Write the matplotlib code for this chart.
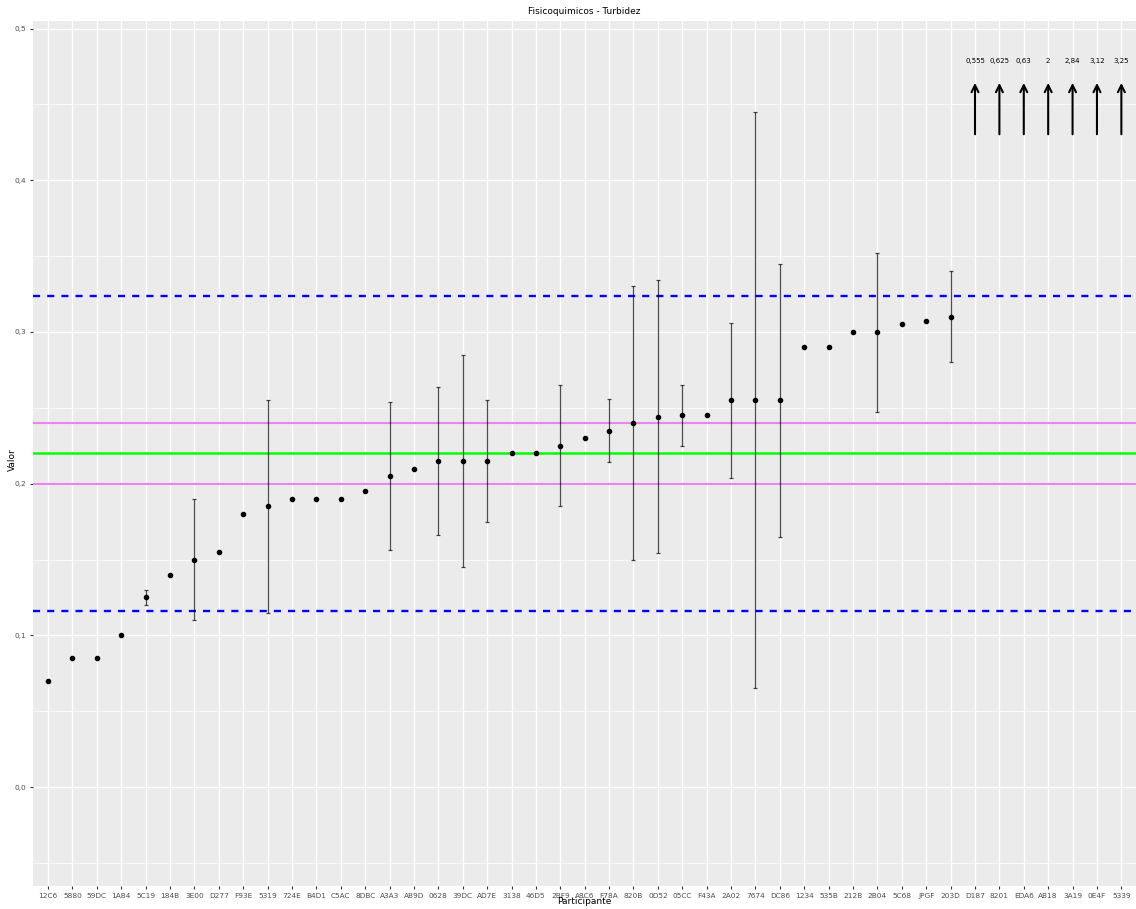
import numpy as np
import matplotlib.pyplot as plt
from matplotlib.ticker import MultipleLocator, FuncFormatter

participantes = ['12C6', '5880', '59DC', '1AB4', '5C19', '184B', '3E00', 'D277', 'F93E', '5319',
                 '724E', 'B4D1', 'C5AC', '8DBC', 'A3A3', 'AB9D', '0628', '39DC', 'AD7E', '3138',
                 '46D5', '2BF9', 'A8C6', 'F78A', '820B', '0D52', '05CC', 'F43A', '2A02', '7674',
                 'DC86', '1234', '535B', '212B', '2B04', '5C68', 'JPGF', '203D', 'D187', '8201',
                 'EDA6', 'AB18', '3A19', '0E4F', '5339']

valores = [0.07, 0.085, 0.085, 0.10, 0.125, 0.14, 0.15, 0.155, 0.18, 0.185,
           0.19, 0.19, 0.19, 0.195, 0.205, 0.21, 0.215, 0.215, 0.215, 0.22,
           0.22, 0.225, 0.23, 0.235, 0.24, 0.244, 0.245, 0.245, 0.255, 0.255,
           0.255, 0.29, 0.29, 0.30, 0.30, 0.305, 0.307, 0.31]

# limites de incertidumbre (None = sin barra)
inferior = [None, None, None, None, 0.12, None, 0.11, None, None, 0.115,
            None, None, None, None, 0.156, None, 0.166, 0.145, 0.175, None,
            None, 0.185, None, 0.214, 0.15, 0.154, 0.225, None, 0.204, 0.065,
            0.165, None, None, None, 0.247, None, None, 0.28]
superior = [None, None, None, None, 0.13, None, 0.19, None, None, 0.255,
            None, None, None, None, 0.254, None, 0.264, 0.285, 0.255, None,
            None, 0.265, None, 0.256, 0.33, 0.334, 0.265, None, 0.306, 0.445,
            0.345, None, None, None, 0.352, None, None, 0.34]

# valores fuera de escala (flechas)
fuera = [0.555, 0.625, 0.63, 2, 2.84, 3.12, 3.25]

valor_asignado = 0.22
lim_violeta = [0.20, 0.24]
lim_azul = [0.116, 0.3235]

fig = plt.figure(figsize=(11.36, 9.09), dpi=100)
ax = fig.add_axes([33.4 / 1136, 1 - 885.7 / 909, 1 - 33.4 / 1136, (885.7 - 21) / 909])

ax.set_facecolor('#EBEBEB')
for s in ax.spines.values():
    s.set_visible(False)

x = np.arange(len(participantes))
ax.set_xlim(-0.6, len(participantes) - 0.4)
ax.set_ylim(-0.065, 0.505)
ax.yaxis.set_major_locator(MultipleLocator(0.1))
ax.yaxis.set_minor_locator(MultipleLocator(0.05))
ax.yaxis.set_major_formatter(FuncFormatter(lambda v, p: f'{v:.1f}'.replace('.', ',')))
ax.set_xticks(x)
ax.set_xticklabels(participantes)

ax.grid(which='major', color='white', lw=1.0)
ax.grid(which='minor', axis='y', color='white', lw=0.5)
ax.set_axisbelow(True)
ax.tick_params(which='major', length=2.5, color='#333333', labelsize=5.3, labelcolor='#4D4D4D', pad=2.5)
ax.tick_params(which='minor', length=0)

ax.axhline(valor_asignado, color='#00FF00', lw=1.8, zorder=2)
for v in lim_violeta:
    ax.axhline(v, color='violet', lw=1.5, zorder=2)
for v in lim_azul:
    ax.axhline(v, color='blue', lw=1.7, ls=(0, (3, 3)), zorder=2)

for i, (v, lo, hi) in enumerate(zip(valores, inferior, superior)):
    if lo is not None:
        ax.errorbar(i, v, yerr=[[v - lo], [hi - v]], fmt='none', ecolor='black',
                    elinewidth=0.9, capsize=1.5, capthick=0.9, alpha=0.7, zorder=3)
ax.scatter(x[:len(valores)], valores, s=9, color='black', zorder=4)

for j, f in enumerate(fuera):
    xi = len(valores) + j
    ax.annotate('', xy=(xi, 0.466), xytext=(xi, 0.4285),
                arrowprops=dict(arrowstyle='->,head_length=0.5,head_width=0.25', color='black', lw=1.5))
    ax.text(xi, 0.4787, f'{f:g}'.replace('.', ','), ha='center', va='center', fontsize=5, color='black')

fig.text(584 / 1136, 1 - 11 / 909, 'Fisicoquimicos - Turbidez', ha='center', va='center', fontsize=6.5)
fig.text(584 / 1136, 1 - 902 / 909, 'Participante', ha='center', va='center', fontsize=6.5)
fig.text(12 / 1136, 1 - 460 / 909, 'Valor', ha='center', va='center', fontsize=6.5, rotation=90)

fig.savefig('out.png', dpi=100)
